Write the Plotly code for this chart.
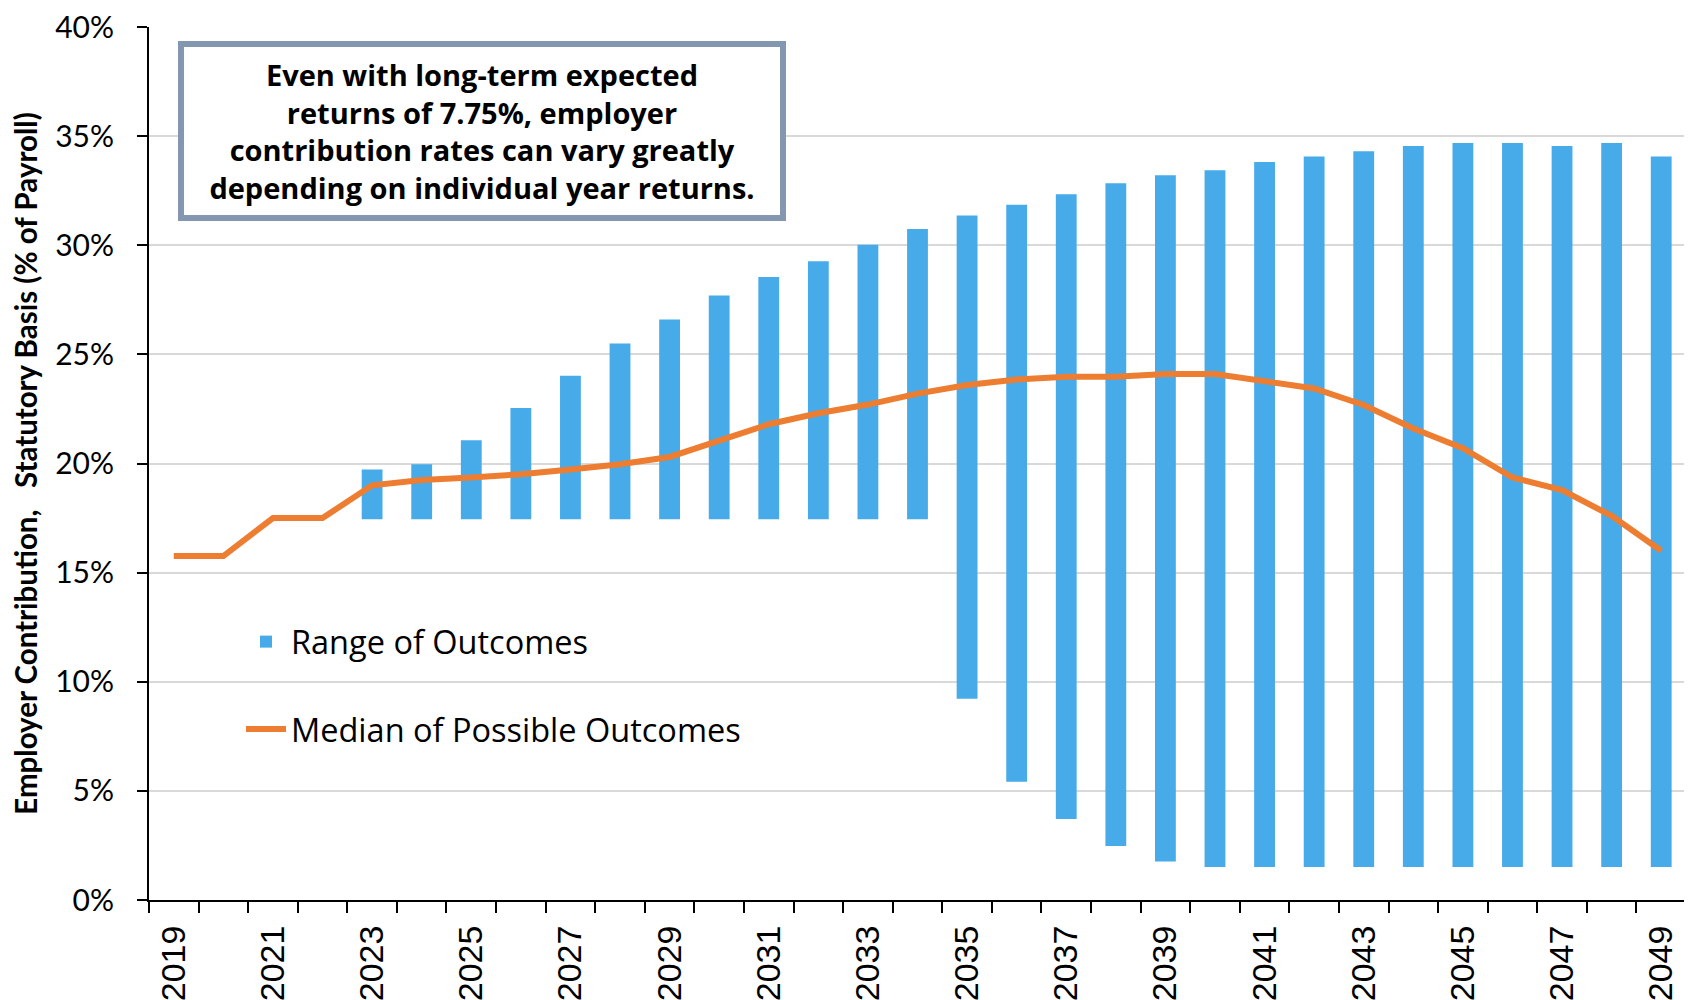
import plotly.graph_objects as go

years = list(range(2019, 2050))

# Range of outcomes (None where no range shown)
range_low = [None, None, None, None,
             17.44, 17.44, 17.44, 17.44, 17.44, 17.44, 17.44, 17.44, 17.44, 17.44, 17.44, 17.44,
             9.22, 5.42, 3.71, 2.47, 1.76, 1.51, 1.51, 1.51, 1.51, 1.51, 1.51, 1.51, 1.51, 1.51, 1.51]
range_high = [None, None, None, None,
              19.73, 19.97, 21.07, 22.54, 24.02, 25.5, 26.6, 27.7, 28.55, 29.27, 30.02, 30.75,
              31.36, 31.85, 32.34, 32.84, 33.21, 33.44, 33.81, 34.07, 34.31, 34.55, 34.68, 34.68, 34.55, 34.68, 34.07]
median = [15.76, 15.76, 17.5, 17.5, 19.0, 19.24, 19.36, 19.51, 19.73, 19.97, 20.3, 21.07,
          21.8, 22.3, 22.7, 23.2, 23.6, 23.85, 23.97, 23.97, 24.1, 24.1, 23.74, 23.44, 22.68,
          21.6, 20.7, 19.36, 18.78, 17.6, 16.0]

y_ticks = [0, 5, 10, 15, 20, 25, 30, 35, 40]
x_label_years = list(range(2019, 2050, 2))

bar_heights = [None if lo is None else hi - lo for lo, hi in zip(range_low, range_high)]

BLUE = "#47ABE9"
ORANGE = "#ED7D31"
GS = "Lato, 'Open Sans', sans-serif"
OS = "'Open Sans', Lato, sans-serif"

# page body adds an 8px offset; margins compensate
L, R, T, B = 141, 14, 19, 108
PW = 1692 - L - R
PH = 1000 - T - B

fig = go.Figure()
fig.add_trace(go.Bar(
    x=years, y=bar_heights, base=range_low, width=0.42,
    marker=dict(color=BLUE, line=dict(width=0)),
    name="Range of Outcomes", legendgroup="a",
))
fig.add_trace(go.Scatter(
    x=years, y=median, mode="lines",
    line=dict(color=ORANGE, width=6),
    name="Median of Possible Outcomes", legendgroup="b",
))

fig.update_layout(
    width=1692, height=1000,
    margin=dict(l=L, r=R, t=T, b=B, autoexpand=False),
    paper_bgcolor="white", plot_bgcolor="white",
    showlegend=True,
    legend=dict(
        x=(233 - L) / PW, y=(892 - 606) / PH, xanchor="left", yanchor="top",
        font=dict(family=OS, size=32.5, color="black"),
        bgcolor="rgba(0,0,0,0)", traceorder="grouped", tracegroupgap=42,
        itemwidth=40,
    ),
    annotations=[dict(
        xref="paper", yref="paper",
        x=(473.5 - L) / PW, y=(892 - 122.5) / PH,
        xanchor="center", yanchor="middle",
        text="<b>Even with long-term expected<br>returns of 7.75%, employer<br>"
             "contribution rates can vary greatly<br>depending on individual year returns.</b>",
        showarrow=False, align="center",
        font=dict(family=OS, size=29, color="black"),
        bordercolor="#8497B0", borderwidth=6, borderpad=7,
        bgcolor="white", width=582, height=154,
    )],
)

fig.update_xaxes(
    range=[2018.5, 2049.5],
    tickmode="array", tickvals=x_label_years, ticktext=[str(y) for y in x_label_years],
    tickangle=-90, ticks="", ticklabelstandoff=10, ticklabeloverflow="allow",
    tickfont=dict(family="'Liberation Sans', Arial, sans-serif", size=34, color="black"),
    showline=True, linecolor="black", linewidth=2,
    showgrid=False, zeroline=False,
    minor=dict(tick0=2018.5, dtick=1, ticks="outside", ticklen=11, tickcolor="black",
               tickwidth=2, showgrid=False),
)
fig.update_yaxes(
    range=[0, 40], tickmode="array", tickvals=y_ticks,
    ticktext=[f"{v}%" for v in y_ticks],
    ticks="outside", ticklen=10, tickcolor="black", tickwidth=2, ticklabelstandoff=17,
    ticklabeloverflow="allow",
    tickfont=dict(family=GS, size=30, color="black"),
    showline=True, linecolor="black", linewidth=2,
    showgrid=True, gridcolor="#D9D9D9", gridwidth=2, zeroline=False,
    title=dict(text="Employer Contribution,\u00a0\u00a0\u00a0Statutory Basis (% of Payroll)",
               font=dict(family=GS, size=29.5, color="black", weight="bold"),
               standoff=12),
)

fig.write_html("out.html")
